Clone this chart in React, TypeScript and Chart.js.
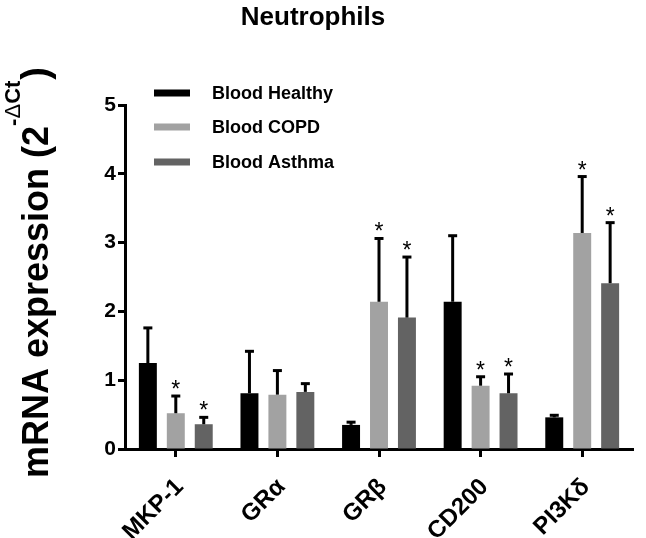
import { useEffect, useRef } from "react";
import { Chart, registerables } from "chart.js";

Chart.register(...registerables);

const categories = ["MKP-1", "GRα", "GRβ", "CD200", "PI3Kδ"];
const seriesNames = ["Blood Healthy", "Blood COPD", "Blood Asthma"];
const healthyMean = [1.25, 0.81, 0.35, 2.14, 0.46];
const healthySD = [0.51, 0.61, 0.04, 0.96, 0.03];
const copdMean = [0.52, 0.79, 2.14, 0.92, 3.14];
const copdSD = [0.25, 0.35, 0.92, 0.13, 0.82];
const asthmaMean = [0.36, 0.83, 1.91, 0.81, 2.41];
const asthmaSD = [0.1, 0.12, 0.88, 0.28, 0.88];
const healthySig = [false, false, false, false, false];
const copdSig = [true, false, true, true, true];
const asthmaSig = [true, false, true, true, true];
const yTickValues = [0, 1, 2, 3, 4, 5];
const titleText = "Neutrophils";

const FONT = "'Liberation Sans', Arial, Helvetica, sans-serif";
const colors = ["#000000", "#a2a2a2", "#636363"];

export default function App() {
  const ref = useRef<HTMLCanvasElement | null>(null);

  useEffect(() => {
    const canvas = ref.current;
    if (!canvas) return;
    const sds = [healthySD, copdSD, asthmaSD];
    const sigs = [healthySig, copdSig, asthmaSig];

    const overlay = {
      id: "overlay",
      afterDatasetsDraw(chart: any) {
        const ctx = chart.ctx;
        const yScale = chart.scales.y;
        ctx.save();
        chart.data.datasets.forEach((ds: any, di: number) => {
          const meta = chart.getDatasetMeta(di);
          meta.data.forEach((el: any, i: number) => {
            const v = ds.data[i];
            const top = yScale.getPixelForValue(v + sds[di][i]);
            ctx.strokeStyle = "#000";
            ctx.lineWidth = 3;
            ctx.beginPath();
            ctx.moveTo(el.x, el.y);
            ctx.lineTo(el.x, top);
            ctx.stroke();
            ctx.beginPath();
            ctx.moveTo(el.x - 4.5, top);
            ctx.lineTo(el.x + 4.5, top);
            ctx.stroke();
            if (sigs[di][i]) {
              ctx.fillStyle = "#000";
              ctx.font = `23px ${FONT}`;
              ctx.textAlign = "center";
              ctx.textBaseline = "alphabetic";
              ctx.fillText("*", el.x, top + 1);
            }
          });
        });
        ctx.restore();
      },
      afterDraw(chart: any) {
        const ctx = chart.ctx;
        ctx.save();
        // title
        ctx.fillStyle = "#000";
        ctx.font = `bold 26px ${FONT}`;
        ctx.textAlign = "center";
        ctx.textBaseline = "alphabetic";
        ctx.fillText(titleText, 313, 25);
        // legend
        const rows = [93, 127, 162];
        chart.data.datasets.forEach((ds: any, di: number) => {
          ctx.fillStyle = ds.backgroundColor;
          ctx.fillRect(154, rows[di] - 3.5, 36, 7);
          ctx.fillStyle = "#000";
          ctx.font = `bold 18px ${FONT}`;
          ctx.textAlign = "left";
          ctx.textBaseline = "middle";
          ctx.fillText(ds.label, 212, rows[di] + 1);
        });
        // y axis title
        ctx.translate(48, 478);
        ctx.rotate(-Math.PI / 2);
        ctx.textAlign = "left";
        ctx.textBaseline = "alphabetic";
        ctx.fillStyle = "#000";
        let x = 0;
        const main = "mRNA expression (2";
        ctx.font = `bold 36px ${FONT}`;
        ctx.fillText(main, x, 0);
        x += ctx.measureText(main).width;
        ctx.font = `bold 22px ${FONT}`;
        ctx.fillText("-", x, -28);
        x += ctx.measureText("-").width;
        ctx.font = `22px ${FONT}`;
        ctx.fillText("Δ", x, -28);
        x += ctx.measureText("Δ").width;
        ctx.font = `bold 22px ${FONT}`;
        ctx.fillText("Ct", x, -28);
        x += ctx.measureText("Ct").width + 1;
        ctx.font = `bold 38px ${FONT}`;
        ctx.fillText(")", x, 0);
        ctx.restore();
      },
    };

    const chart = new Chart(canvas, {
      type: "bar",
      data: {
        labels: categories,
        datasets: [
          { label: seriesNames[0], data: healthyMean, backgroundColor: colors[0] },
          { label: seriesNames[1], data: copdMean, backgroundColor: colors[1] },
          { label: seriesNames[2], data: asthmaMean, backgroundColor: colors[2] },
        ],
      },
      options: {
        responsive: false,
        animation: false,
        maintainAspectRatio: false,
        layout: { padding: { top: 105, right: 13, left: 0, bottom: 0 } },
        datasets: { bar: { categoryPercentage: 0.825, barPercentage: 0.643 } },
        plugins: { legend: { display: false }, title: { display: false }, tooltip: { enabled: false } },
        scales: {
          x: {
            grid: { display: true, drawOnChartArea: false, drawTicks: true, tickLength: 8, tickWidth: 3, tickColor: "#000", offset: false },
            border: { display: true, width: 3, color: "#000" },
            ticks: { font: { family: FONT, size: 24, weight: "bold" }, color: "#000", maxRotation: 45, minRotation: 45, padding: 16, labelOffset: 4 },
            afterFit: (s: any) => { s.height = 89; },
          },
          y: {
            min: 0,
            max: 5,
            afterBuildTicks: (s: any) => { s.ticks = yTickValues.map((v) => ({ value: v })); },
            grid: { display: true, drawOnChartArea: false, drawTicks: true, tickLength: 7, tickWidth: 3, tickColor: "#000" },
            border: { display: true, width: 3, color: "#000" },
            ticks: { font: { family: FONT, size: 21, weight: "bold" }, color: "#000", padding: 2 },
            afterFit: (s: any) => { s.width = 125; },
          },
        },
      },
      plugins: [overlay],
    } as any);
    return () => chart.destroy();
  }, []);

  return (
    <div style={{ position: "fixed", left: 0, top: 0, width: 646, height: 538, background: "#fff" }}>
      <canvas ref={ref} width={646} height={538} />
    </div>
  );
}
